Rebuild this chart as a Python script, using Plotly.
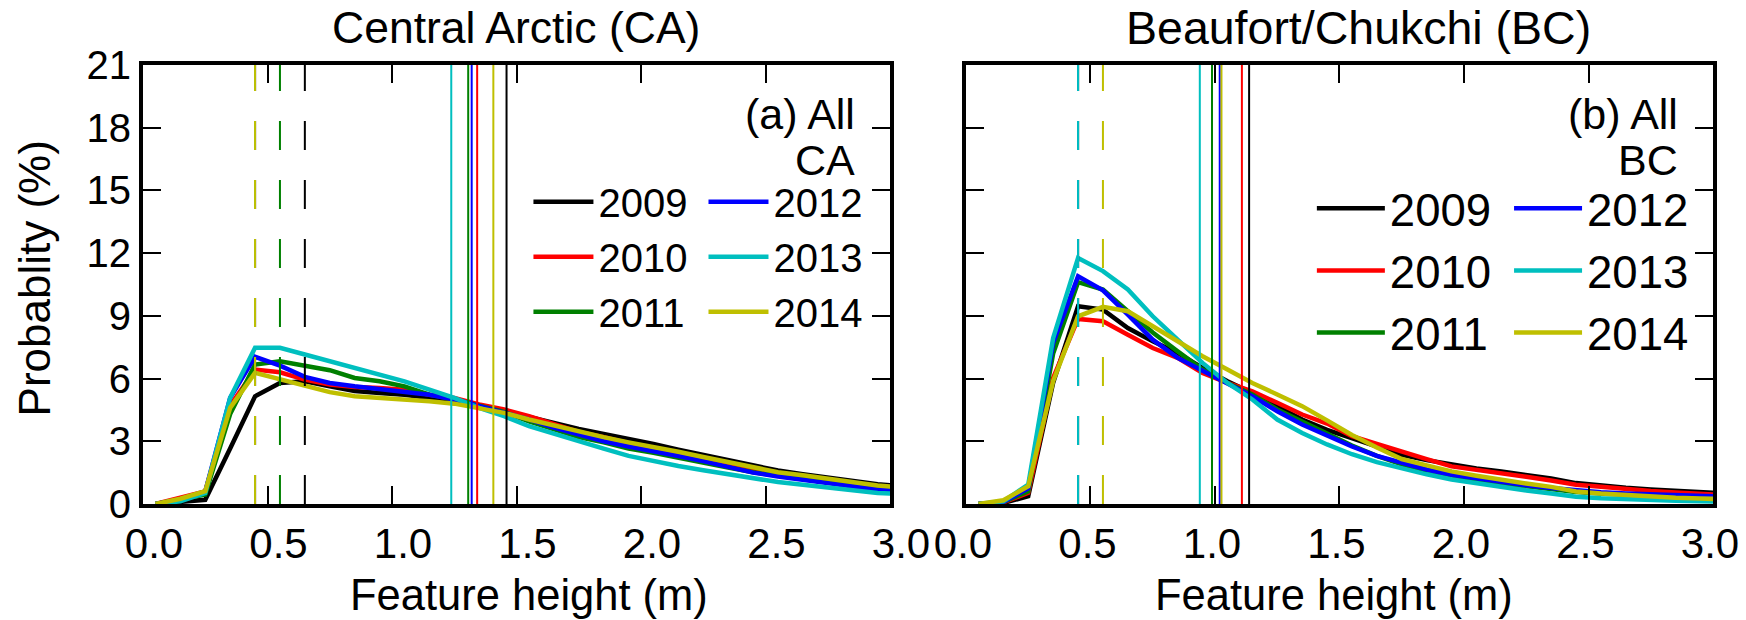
import plotly.graph_objects as go

# ---------------- data ----------------
heights = [0.05, 0.15, 0.25, 0.35, 0.45, 0.55, 0.65, 0.75, 0.85, 0.95, 1.05,
           1.15, 1.25, 1.35, 1.45, 1.55, 1.65, 1.75, 1.85, 1.95, 2.05, 2.15,
           2.25, 2.35, 2.45, 2.55, 2.65, 2.75, 2.85, 2.95, 3.05]

years = ["2009", "2010", "2011", "2012", "2013", "2014"]
colors = ["#000000", "#ff0000", "#008000", "#0000ff", "#00bfbf", "#bfbf00"]

# Central Arctic (CA)
ca_2009 = [0, 0.1, 0.2, 2.65, 5.15, 5.79, 5.87, 5.63, 5.4, 5.31, 5.23, 5.07, 4.91, 4.7, 4.45,
           4.15, 3.85, 3.59, 3.35, 3.12, 2.87, 2.6, 2.35, 2.1, 1.85, 1.6, 1.42, 1.25, 1.1, 0.95, 0.85]
ca_2010 = [0, 0.3, 0.6, 4.7, 6.43, 6.30, 5.95, 5.71, 5.60, 5.55, 5.47, 5.23, 5.07, 4.76, 4.52,
           4.2, 3.85, 3.45, 3.2, 2.9, 2.65, 2.35, 2.1, 1.85, 1.6, 1.42, 1.27, 1.12, 0.97, 0.83, 0.75]
ca_2011 = [0, 0.2, 0.45, 4.3, 6.67, 6.83, 6.62, 6.40, 6.03, 5.87, 5.63, 5.23, 5.0, 4.7, 4.4,
           3.95, 3.55, 3.2, 2.95, 2.65, 2.45, 2.2, 1.98, 1.75, 1.52, 1.35, 1.2, 1.05, 0.9, 0.75, 0.68]
ca_2012 = [0, 0.2, 0.6, 5.08, 7.04, 6.62, 6.08, 5.79, 5.63, 5.51, 5.39, 5.23, 5.0, 4.7, 4.4,
           4.05, 3.65, 3.3, 3.0, 2.75, 2.55, 2.3, 2.05, 1.8, 1.5, 1.32, 1.15, 1.0, 0.85, 0.68, 0.6]
ca_2013 = [0, 0.13, 0.53, 5.08, 7.47, 7.47, 7.15, 6.83, 6.51, 6.19, 5.87, 5.47, 5.08, 4.6, 4.2,
           3.72, 3.35, 3.0, 2.65, 2.3, 2.05, 1.82, 1.61, 1.42, 1.2, 1.05, 0.92, 0.78, 0.65, 0.53, 0.48]
ca_2014 = [0, 0.25, 0.61, 4.6, 6.27, 5.95, 5.63, 5.35, 5.15, 5.07, 5.03, 4.91, 4.80, 4.6, 4.36,
           4.04, 3.75, 3.48, 3.2, 2.95, 2.75, 2.5, 2.25, 2.0, 1.72, 1.52, 1.38, 1.22, 1.05, 0.88, 0.8]
ca_mode = [0.65, 0.45, 0.55, 0.45, 0.45, 0.45]
ca_mean = [1.46, 1.342, 1.306, 1.32, 1.238, 1.407]

# Beaufort/Chukchi (BC)
bc_2009 = [0, 0.05, 0.37, 5.8, 9.46, 9.30, 8.42, 7.78, 7.22, 6.51, 5.87, 5.31, 4.68, 4.04, 3.55,
           3.15, 2.75, 2.35, 2.1, 1.88, 1.7, 1.55, 1.4, 1.22, 1.0, 0.88, 0.78, 0.7, 0.62, 0.55, 0.5]
bc_2010 = [0, 0.08, 0.53, 6.03, 8.85, 8.74, 8.10, 7.46, 6.99, 6.27, 5.79, 5.39, 4.84, 4.28, 3.85,
           3.25, 2.88, 2.5, 2.15, 1.8, 1.65, 1.48, 1.3, 1.12, 0.92, 0.82, 0.7, 0.62, 0.55, 0.47, 0.43]
bc_2011 = [0, 0.1, 0.6, 7.2, 10.61, 10.26, 9.22, 8.2, 7.3, 6.43, 5.79, 5.24, 4.52, 3.96, 3.35,
           2.8, 2.3, 1.9, 1.6, 1.35, 1.15, 0.98, 0.83, 0.7, 0.57, 0.5, 0.43, 0.37, 0.32, 0.28, 0.26]
bc_2012 = [0, 0.1, 0.75, 7.7, 10.89, 10.22, 9.06, 7.86, 6.99, 6.35, 5.76, 5.15, 4.44, 3.80, 3.25,
           2.75, 2.3, 1.95, 1.65, 1.4, 1.22, 1.05, 0.9, 0.77, 0.64, 0.56, 0.5, 0.45, 0.4, 0.37, 0.35]
bc_2013 = [0, 0.13, 0.93, 7.94, 11.77, 11.14, 10.26, 8.98, 7.86, 6.75, 5.79, 5.0, 4.04, 3.40, 2.85,
           2.38, 2.0, 1.7, 1.42, 1.17, 0.98, 0.8, 0.65, 0.5, 0.35, 0.27, 0.22, 0.18, 0.15, 0.13, 0.12]
bc_2014 = [0, 0.18, 0.85, 5.87, 8.98, 9.43, 9.22, 8.50, 7.78, 7.07, 6.43, 5.79, 5.24, 4.68, 4.0,
           3.3, 2.7, 2.15, 1.85, 1.56, 1.35, 1.15, 0.98, 0.82, 0.6, 0.5, 0.42, 0.35, 0.3, 0.26, 0.23]
bc_mode = [0.45, 0.45, 0.45, 0.45, 0.45, 0.55]
bc_mean = [1.137, 1.108, 0.988, 1.019, 0.939, 1.026]

x_tickvals = [0, 0.5, 1.0, 1.5, 2.0, 2.5, 3.0]
x_ticktext = ["0.0", "0.5", "1.0", "1.5", "2.0", "2.5", "3.0"]
y_tickvals = [0, 3, 6, 9, 12, 15, 18, 21]
y_range = [0, 21]
x_range = [0, 3]

panel_titles = ["Central Arctic (CA)", "Beaufort/Chukchi (BC)"]
panel_labels = [("(a) All", "CA"), ("(b) All", "BC")]
x_title = "Feature height (m)"
y_title = "Probablity (%)"

FONT = "Liberation Sans, Arial, sans-serif"

fig = go.Figure()

panels = [
    dict(xa="x", ya="y", series=[ca_2009, ca_2010, ca_2011, ca_2012, ca_2013, ca_2014],
         modes=ca_mode, means=ca_mean, legs=["legend", "legend2"]),
    dict(xa="x2", ya="y2", series=[bc_2009, bc_2010, bc_2011, bc_2012, bc_2013, bc_2014],
         modes=bc_mode, means=bc_mean, legs=["legend3", "legend4"]),
]

for p in panels:
    for i, yr in enumerate(years):
        fig.add_trace(go.Scatter(
            x=heights, y=p["series"][i], mode="lines", name=yr,
            line=dict(color=colors[i], width=4.5),
            xaxis=p["xa"], yaxis=p["ya"],
            legend=p["legs"][0] if i < 3 else p["legs"][1],
            showlegend=True))
    for i, yr in enumerate(years):
        fig.add_trace(go.Scatter(
            x=[p["modes"][i], p["modes"][i]], y=y_range, mode="lines",
            line=dict(color=colors[i], width=2, dash="29px,30px"),
            xaxis=p["xa"], yaxis=p["ya"], showlegend=False, hoverinfo="skip"))
    for i, yr in enumerate(years):
        fig.add_trace(go.Scatter(
            x=[p["means"][i], p["means"][i]], y=y_range, mode="lines",
            line=dict(color=colors[i], width=2),
            xaxis=p["xa"], yaxis=p["ya"], showlegend=False, hoverinfo="skip"))

axis_common = dict(showline=True, linewidth=4, linecolor="black", mirror="ticks",
                   ticks="inside", ticklen=18, tickwidth=2, tickcolor="black",
                   showgrid=False, zeroline=False, automargin=False)

fig.update_layout(
    template="none",
    width=1746, height=620, autosize=False,
    margin=dict(l=143, r=33, t=65, b=116, pad=0, autoexpand=False),
    paper_bgcolor="white", plot_bgcolor="white",
    font=dict(family=FONT, color="black"),
    xaxis=dict(domain=[0, 0.4758], range=x_range, tickvals=x_tickvals, ticktext=x_ticktext,
               tickfont=dict(size=42), anchor="y", ticklabelshift=11, **axis_common),
    xaxis2=dict(domain=[0.5242, 1], range=x_range, tickvals=x_tickvals, ticktext=x_ticktext,
                tickfont=dict(size=42), anchor="y2", ticklabelshift=-3, **axis_common),
    yaxis=dict(domain=[0, 1], range=y_range, tickvals=y_tickvals, tickfont=dict(size=40),
               anchor="x", **axis_common),
    yaxis2=dict(domain=[0, 1], range=y_range, tickvals=y_tickvals, showticklabels=False,
                anchor="x2", **axis_common),
    legend=dict(x=0.2455, y=0.7626, xanchor="left", yanchor="top", font=dict(size=40),
                itemwidth=60, bgcolor="rgba(0,0,0,0)", borderwidth=0),
    legend2=dict(x=0.3570, y=0.7626, xanchor="left", yanchor="top", font=dict(size=40),
                 itemwidth=60, bgcolor="rgba(0,0,0,0)", borderwidth=0),
    legend3=dict(x=0.7445, y=0.7558, xanchor="left", yanchor="top", font=dict(size=45.5),
                 itemwidth=68, bgcolor="rgba(0,0,0,0)", borderwidth=0),
    legend4=dict(x=0.8701, y=0.7558, xanchor="left", yanchor="top", font=dict(size=45.5),
                 itemwidth=68, bgcolor="rgba(0,0,0,0)", borderwidth=0),
    showlegend=True,
)

ann = []
# panel titles
for txt, xc, fs in zip(panel_titles, [0.2376, 0.7745], [44.5, 46.5]):
    ann.append(dict(text=txt, x=xc, y=1.0854, xref="paper", yref="paper",
                    xanchor="center", yanchor="middle", showarrow=False, font=dict(size=fs)))
# in-panel labels
for (l1, l2), xr in zip(panel_labels, [0.4548, 0.9790]):
    ann.append(dict(text=l1, x=xr, y=0.8895, xref="paper", yref="paper",
                    xanchor="right", yanchor="middle", showarrow=False, font=dict(size=43)))
    ann.append(dict(text=l2, x=xr, y=0.7836, xref="paper", yref="paper",
                    xanchor="right", yanchor="middle", showarrow=False, font=dict(size=43)))
# axis titles
for xc in [0.2459, 0.7586]:
    ann.append(dict(text=x_title, x=xc, y=-0.2073, xref="paper", yref="paper",
                    xanchor="center", yanchor="middle", showarrow=False, font=dict(size=43.5)))
ann.append(dict(text=y_title, x=-0.0688, y=0.5137, xref="paper", yref="paper", textangle=-90,
                xanchor="center", yanchor="middle", showarrow=False, font=dict(size=44)))
fig.update_layout(annotations=ann)

# remove the default 8px page margin so the figure fills the window exactly
fig.write_html("out.html", config={"displayModeBar": False},
               post_script="document.body.style.margin='0px';")
